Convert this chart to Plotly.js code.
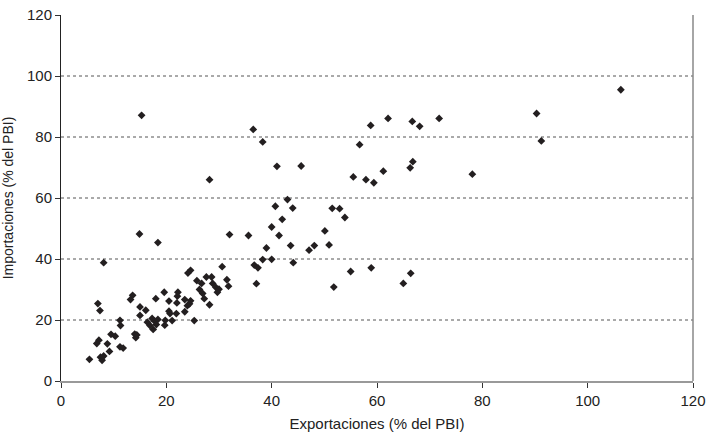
<!DOCTYPE html>
<html><head><meta charset="utf-8">
<script src="https://cdn.plot.ly/plotly-3.0.1.min.js"></script>
<style>html,body{margin:0;padding:0;background:#fff}</style>
</head><body><div id="chart" style="width:709px;height:434px"></div>
<script>
const exportaciones = [5.4,7.0,7.4,6.8,7.2,7.5,7.8,8.1,8.1,8.8,9.2,9.5,10.3,11.2,11.3,11.2,11.8,13.2,13.6,14.0,14.2,14.4,14.9,15.0,15.0,15.3,16.1,16.4,16.9,17.3,17.5,17.8,18.0,18.1,18.4,18.4,19.6,19.7,19.8,20.5,20.5,20.7,21.1,21.9,22.0,22.2,22.1,23.5,23.5,24.1,24.6,24.0,24.6,24.4,25.3,25.8,26.3,26.7,26.9,27.2,27.6,28.2,28.2,28.6,28.8,29.4,29.7,30.0,30.6,31.5,31.8,32.0,35.6,36.5,36.7,37.1,37.4,38.3,38.3,39.0,40.0,40.0,40.7,41.0,41.4,42.0,43.0,43.6,44.0,44.1,45.6,47.1,48.1,50.1,50.9,51.5,51.8,52.9,53.9,55.0,55.5,56.7,57.9,58.8,58.9,59.4,61.2,62.1,65.0,66.3,66.8,66.4,66.7,68.1,71.8,78.1,90.3,91.2,106.3];
const importaciones = [7.1,25.4,23.1,12.3,13.4,7.8,6.8,8.2,38.8,12.2,9.7,15.3,14.7,19.9,18.2,11.2,10.8,26.7,28.1,15.4,14.2,15.1,48.2,24.3,21.5,87.1,23.2,19.3,18.2,20.5,16.9,19.6,27.0,18.5,20.2,45.4,29.1,18.3,19.9,26.2,22.9,22.1,19.8,22.1,25.6,29.1,27.8,26.7,22.7,35.4,36.3,24.7,26.3,25.3,19.8,32.9,30.0,32.0,28.7,27.0,34.1,66.0,25.0,34.1,32.0,30.7,29.1,30.1,37.5,33.2,31.1,48.0,47.7,82.5,38.0,31.9,37.1,78.4,39.8,43.6,50.5,39.9,57.3,70.4,47.7,53.0,59.5,44.4,56.7,38.8,70.5,42.9,44.4,49.2,44.6,56.6,30.8,56.5,53.6,35.9,66.9,77.5,66.0,83.8,37.1,65.0,68.8,86.1,32.0,69.9,71.9,35.3,85.1,83.5,86.1,67.8,87.7,78.7,95.5];
const tickVals = [0,20,40,60,80,100,120];
const tickText = ["0","20","40","60","80","100","120"];

const narrow = "Liberation Sans Narrow, Arial Narrow, Liberation Sans, Arial, sans-serif";
const trace = {
  x: exportaciones, y: importaciones, type: "scatter", mode: "markers",
  marker: {symbol: "diamond", size: 6, color: "#231f20"},
  hoverinfo: "x+y"
};
const gridShapes = [20,40,60,80,100].map(v => ({
  type: "line", xref: "paper", yref: "y", x0: 0, x1: 1, y0: v, y1: v,
  line: {color: "#555", width: 1, dash: "dot"}, layer: "below"
}));
gridShapes.push({type:"line", xref:"paper", yref:"paper", x0:1, x1:1, y0:0, y1:1, line:{color:"#888", width:1.5}});
const layout = {
  width: 709, height: 434,
  margin: {l: 61, r: 16, t: 15, b: 53},
  paper_bgcolor: "#fff", plot_bgcolor: "#fff",
  showlegend: false,
  xaxis: {
    range: [0, 120], tickvals: tickVals, ticktext: tickText,
    showgrid: false, zeroline: false,
    showline: true, linecolor: "#999", linewidth: 2,
    ticks: "outside", ticklen: 5, tickcolor: "#333",
    tickfont: {family: narrow, size: 15, color: "#222"},
    title: {text: "Exportaciones (% del PBI)", font: {family: narrow, size: 15, color: "#222"}, standoff: 10}
  },
  yaxis: {
    range: [0, 120], tickvals: tickVals, ticktext: tickText,
    showgrid: false, zeroline: false,
    showline: true, linecolor: "#222", linewidth: 1,
    ticks: "outside", ticklen: 5, tickcolor: "#333",
    tickfont: {family: narrow, size: 15, color: "#222"},
    title: {text: "Importaciones (% del PBI)", font: {family: "Liberation Sans, Arial, sans-serif", size: 14, color: "#222"}, standoff: 12}
  },
  shapes: gridShapes
};
Plotly.newPlot("chart", [trace], layout, {displayModeBar: false, staticPlot: true});
</script></body></html>
